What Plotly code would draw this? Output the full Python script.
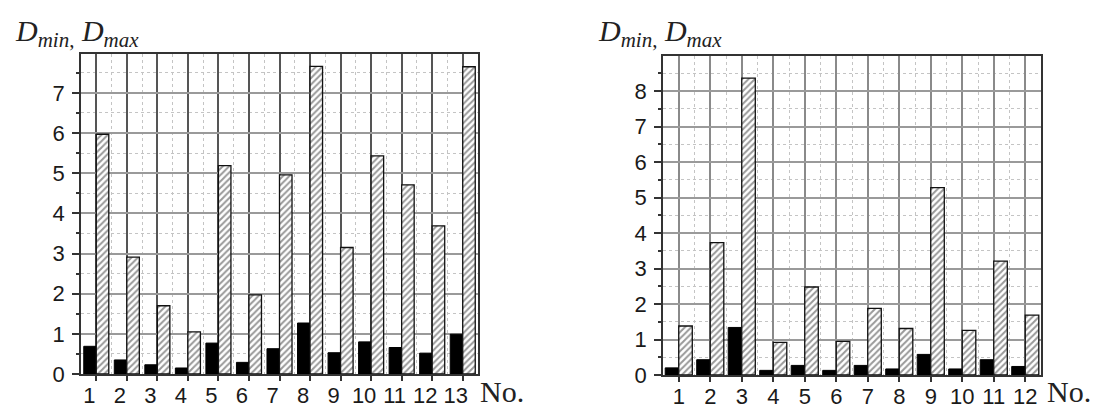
import plotly.graph_objects as go

# ---- data ----
left_cats = list(range(1, 14))
left_labels = [str(i) for i in left_cats]
left_dmin = [0.69, 0.35, 0.23, 0.15, 0.77, 0.29, 0.63, 1.27, 0.53, 0.80, 0.66, 0.52, 0.99]
left_dmax = [5.97, 2.91, 1.70, 1.05, 5.19, 1.97, 4.96, 7.66, 3.15, 5.43, 4.71, 3.69, 7.65]

right_cats = list(range(1, 13))
right_labels = [str(i) for i in right_cats]
right_dmin = [0.20, 0.43, 1.34, 0.13, 0.27, 0.13, 0.27, 0.17, 0.58, 0.17, 0.43, 0.24]
right_dmax = [1.38, 3.73, 8.37, 0.92, 2.48, 0.95, 1.88, 1.31, 5.28, 1.26, 3.21, 1.69]

W, H = 1103, 410

def px_x(p):
    return p / W

def px_y(p):
    return 1 - p / H

fig = go.Figure()

def add_pair(cats, dmin, dmax, xa, ya, w):
    fig.add_trace(go.Bar(x=cats, y=dmin, width=w, offset=-w, xaxis=xa, yaxis=ya,
                         marker=dict(color="black", line=dict(color="black", width=1)),
                         showlegend=False))
    fig.add_trace(go.Bar(x=cats, y=dmax, width=w, offset=0, xaxis=xa, yaxis=ya,
                         marker=dict(color="white",
                                     line=dict(color="#111", width=1.3),
                                     pattern=dict(shape="/", size=4.5, solidity=0.45,
                                                  fgcolor="#333", bgcolor="white",
                                                  fillmode="overlay")),
                         showlegend=False))

add_pair(left_cats, left_dmin, left_dmax, "x", "y", 0.41)
add_pair(right_cats, right_dmin, right_dmax, "x2", "y2", 0.43)

tickfont = dict(family="Liberation Sans, Arial, sans-serif", size=22, color="#1a1a1a")

def xaxis(domain, anchor, n, labels, gridcolor, gridwidth, shift):
    return dict(domain=domain, anchor=anchor, range=[0.5, n + 0.5],
                tickmode="array", tickvals=list(range(1, n + 1)), ticktext=labels,
                ticks="outside", ticklen=5, tickcolor="#333", tickwidth=1.5,
                tickfont=tickfont, ticklabelshift=shift, ticklabelstandoff=-4,
                showgrid=True, gridcolor=gridcolor, gridwidth=gridwidth,
                minor=dict(tick0=0.5, dtick=1, showgrid=True, gridcolor="#c4c4c4",
                           griddash="dot", gridwidth=1, ticks=""),
                showline=True, linecolor="#333", linewidth=1.5, mirror=True,
                zeroline=False, fixedrange=True)

def yaxis(domain, anchor, top):
    return dict(domain=domain, anchor=anchor, range=[0, top],
                tickmode="linear", tick0=0, dtick=1,
                ticks="outside", ticklen=7, tickcolor="#333", tickwidth=1.5,
                tickfont=tickfont, ticklabelstandoff=3,
                showgrid=True, gridcolor="#9a9a9a", gridwidth=1.5,
                minor=dict(tick0=0, dtick=0.5, showgrid=True, gridcolor="#c4c4c4",
                           griddash="dot", gridwidth=1, ticks="outside", ticklen=3,
                           tickcolor="#333"),
                showline=True, linecolor="#333", linewidth=1.5, mirror=True,
                zeroline=False, fixedrange=True)

fig.update_layout(
    width=W, height=H,
    margin=dict(l=0, r=0, t=0, b=0),
    paper_bgcolor="white", plot_bgcolor="white",
    barmode="overlay",
    xaxis=xaxis([px_x(73), px_x(470)], "y", 13, left_labels, "#555", 2, -7),
    yaxis=yaxis([px_y(378), px_y(47)], "x", 7.98),
    xaxis2=xaxis([px_x(655), px_x(1033)], "y2", 12, right_labels, "#8a8a8a", 1.5, 0),
    yaxis2=yaxis([px_y(379), px_y(50)], "x2", 8.98),
)

title_font = dict(family="Liberation Serif, Times New Roman, serif", size=30, color="#222")
ttl = "<i>D</i><sub><i>min</i>,</sub> <i>D</i><sub><i>max</i></sub>"
fig.add_annotation(text=ttl, xref="paper", yref="paper", x=px_x(5), y=px_y(4),
                   xanchor="left", yanchor="top", showarrow=False, font=title_font)
fig.add_annotation(text=ttl, xref="paper", yref="paper", x=px_x(588), y=px_y(4),
                   xanchor="left", yanchor="top", showarrow=False, font=title_font)
no_font = dict(family="Liberation Serif, Times New Roman, serif", size=30, color="#222")
fig.add_annotation(text="No.", xref="paper", yref="paper", x=px_x(470), y=px_y(396),
                   xanchor="left", yanchor="middle", showarrow=False, font=no_font)
fig.add_annotation(text="No.", xref="paper", yref="paper", x=px_x(1037), y=px_y(396),
                   xanchor="left", yanchor="middle", showarrow=False, font=no_font)

fig.write_html("out.html")
